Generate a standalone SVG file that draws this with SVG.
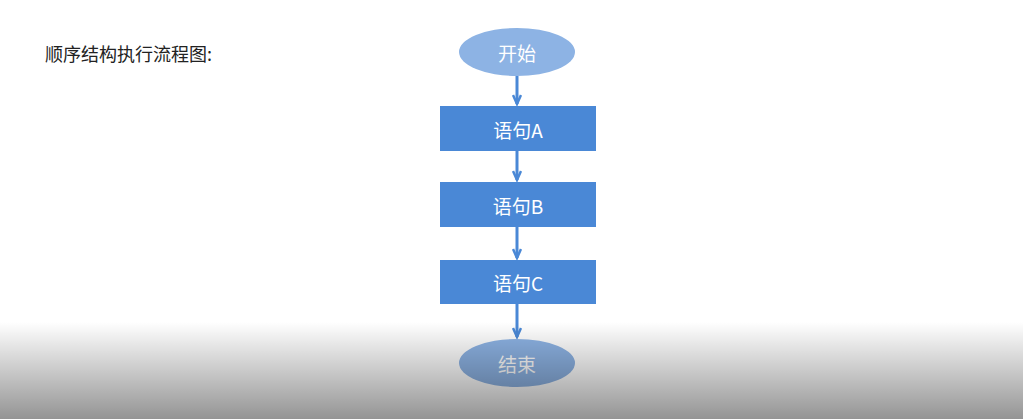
<svg xmlns="http://www.w3.org/2000/svg" width="1023" height="419" viewBox="0 0 1023 419">
<style>
.t{font-family:"Noto Sans CJK SC","Liberation Sans",sans-serif;font-size:19px;fill:#fff;text-anchor:middle;dominant-baseline:central}
.box{fill:#4a88d6}
.ell{fill:#8db3e4}
.c{stroke:#4a88d6;stroke-width:3;fill:none}
</style>
<defs>
<marker id="ah" viewBox="0 0 12 10" refX="10" refY="5" markerWidth="12" markerHeight="10" markerUnits="userSpaceOnUse" orient="auto"><path d="M1,1 L10,5 L1,9" fill="none" stroke="#4a88d6" stroke-width="2.5"/></marker>
<linearGradient id="shade" x1="0" y1="0" x2="0" y2="1"><stop offset="0" stop-color="#000" stop-opacity="0"/><stop offset="1" stop-color="#000" stop-opacity="0.42"/></linearGradient>
</defs>
<rect width="1023" height="419" fill="#fff"/>
<text x="45" y="53" style="font-family:'Noto Sans CJK SC','Liberation Sans',sans-serif;font-size:18px;fill:#222;dominant-baseline:central">顺序结构执行流程图:</text>
<g id="connectors">
<line class="c" x1="517" y1="76" x2="517" y2="104" marker-end="url(#ah)"/>
<line class="c" x1="517" y1="151" x2="517" y2="180" marker-end="url(#ah)"/>
<line class="c" x1="517" y1="227" x2="517" y2="258" marker-end="url(#ah)"/>
<line class="c" x1="517" y1="304" x2="517" y2="337" marker-end="url(#ah)"/>
</g>
<g id="start"><ellipse class="ell" cx="517" cy="52" rx="58" ry="24"/><text class="t" x="517" y="52">开始</text></g>
<g id="a"><rect class="box" x="440" y="106" width="156" height="45"/><text class="t" x="518" y="129">语句A</text></g>
<g id="b"><rect class="box" x="440" y="182" width="156" height="45"/><text class="t" x="518" y="205">语句B</text></g>
<g id="c"><rect class="box" x="440" y="260" width="156" height="44"/><text class="t" x="518" y="282">语句C</text></g>
<g id="end"><ellipse class="ell" cx="517" cy="363" rx="58" ry="24"/><text class="t" x="517" y="363">结束</text></g>
<rect x="0" y="322" width="1023" height="97" fill="url(#shade)"/>
</svg>
